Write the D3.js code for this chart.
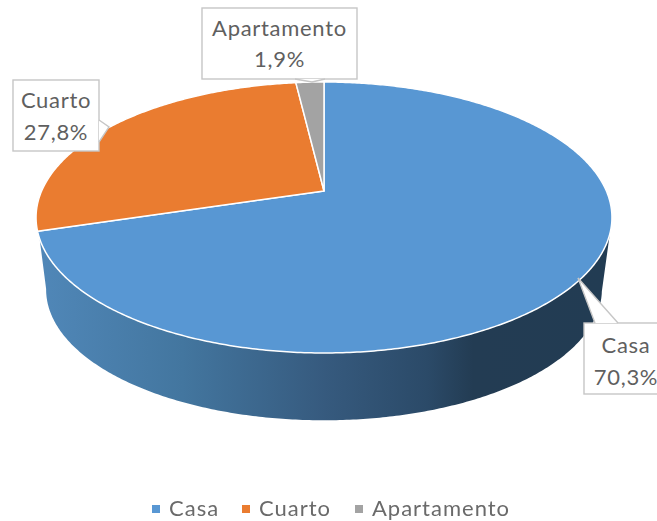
<!DOCTYPE html>
<html><head><meta charset="utf-8">
<script src="https://cdn.jsdelivr.net/npm/d3@7/dist/d3.min.js"></script>
<style>html,body{margin:0;padding:0;background:#fff;overflow:hidden}svg{display:block;filter:blur(.45px)}text{font-family:Lato,sans-serif}</style>
</head><body><svg id="c" width="657" height="521"></svg>
<script>
const categories = ["Casa", "Cuarto", "Apartamento"];
const values = [70.3, 27.8, 1.9];
const colors = ["#5897d3", "#ea7c30", "#a3a3a3"];

const svg = d3.select("#c");
const color = d3.scaleOrdinal(categories, colors);
const fmt = v => v.toFixed(1).replace(".", ",") + "%";
const arcs = d3.pie().sort(null).value((d, i) => values[i])(categories);

// Perspective disc projection
const k = 0.1955, apexX = 324, apexY = 191;
const A = 130.3, B = 282.4;
function project(a, s = 1, oy = 0) {
  const u = Math.sin(a), v = Math.cos(a), w = 1 + k * v;
  return [apexX + s * B * u / w, apexY + oy - s * A * v / w];
}
const rad = d3.scaleLinear().domain([0, 360]).range([0, 2 * Math.PI]);
function sweep(a0, a1, s, oy) {
  const n = Math.max(2, Math.ceil(Math.abs(a1 - a0) / 0.01));
  return d3.range(n + 1).map(i => project(a0 + (a1 - a0) * i / n, s, oy));
}
const line = d3.line();

// Wall
const defs = svg.append("defs");
const g = defs.append("linearGradient").attr("id", "wall")
  .attr("gradientUnits", "userSpaceOnUse").attr("x1", 40).attr("x2", 610).attr("y1", 0).attr("y2", 0);
[[0, "#5087b8"], [.25, "#43769f"], [.5, "#365a7e"], [.68, "#2b4a68"], [.76, "#233c53"], [1, "#223c53"]]
  .forEach(([o, c]) => g.append("stop").attr("offset", o).attr("stop-color", c));

const baseScale = 0.965, baseOffset = 73;
const wallTop = sweep(rad(108), rad(250), 1, 0);
const wallBase = sweep(rad(259), rad(102), baseScale, baseOffset);
svg.append("path").attr("d", line(wallTop.concat(wallBase)) + "Z").attr("fill", "url(#wall)");

// Top face
svg.append("g").selectAll("path").data(arcs).join("path")
  .attr("d", d => line([[apexX, apexY], ...sweep(d.startAngle, d.endAngle, 1, 0)]) + "Z")
  .attr("fill", d => color(d.data))
  .attr("stroke", "#fff").attr("stroke-width", 1.5).attr("stroke-linejoin", "round");

// Callouts, in category order
const callouts = [
  { box: [584, 323, 80, 71], ptr: [[595, 323], [578, 278], [618, 323]], cx: 626, ys: [353, 385] },
  { box: [13, 80, 86, 71], ptr: [[99, 120], [109, 127], [99, 142]], cx: 56, ys: [108, 140] },
  { box: [202, 8, 155, 71], ptr: [[295, 79], [312, 82], [325, 79]], cx: 279.5, ys: [36, 67] }
];
callouts.forEach((c, i) => {
  const [x, y, w, h] = c.box;
  svg.append("rect").attr("x", x).attr("y", y).attr("width", w).attr("height", h)
    .attr("fill", "#fff").attr("stroke", "#c6c6c6").attr("stroke-width", 1.4);
  svg.append("path").attr("d", line(c.ptr) + "Z").attr("fill", "#fff");
  svg.append("path").attr("d", line(c.ptr)).attr("fill", "none")
    .attr("stroke", "#c6c6c6").attr("stroke-width", 1.4);
  const t = svg.append("text").attr("text-anchor", "middle").attr("fill", "#5f5f5f")
    .attr("font-size", 22).attr("letter-spacing", .7);
  t.append("tspan").attr("x", c.cx).attr("y", c.ys[0]).text(categories[i]);
  t.append("tspan").attr("x", c.cx).attr("y", c.ys[1]).text(fmt(values[i]));
});

// Legend
const legendX = [152, 242, 355];
const legend = svg.append("g").selectAll("g").data(categories).join("g")
  .attr("transform", (d, i) => `translate(${legendX[i]},505)`);
legend.append("rect").attr("width", 8).attr("height", 8).attr("fill", d => color(d));
legend.append("text").attr("x", 17).attr("y", 11).attr("fill", "#6a6a6a").attr("font-size", 22)
  .attr("letter-spacing", 1).text(d => d);
</script></body></html>
